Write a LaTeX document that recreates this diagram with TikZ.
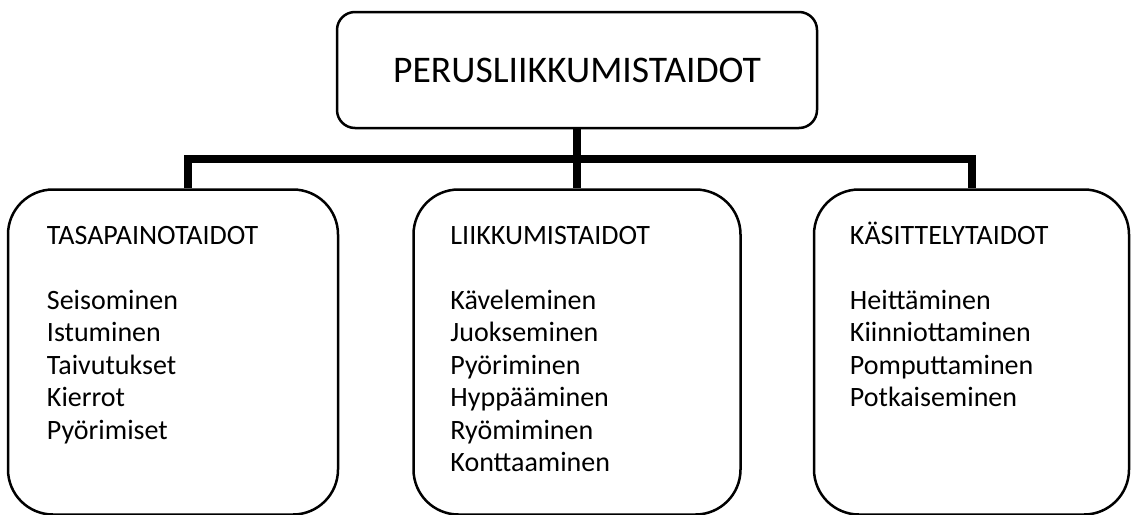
\documentclass[tikz,border=0pt]{standalone}
\usepackage{fontspec}
\setmainfont{Carlito}
\usetikzlibrary{positioning, calc}
\tikzset{
	mainbox/.style={rectangle, rounded corners=18pt, draw=black, line width=2.5pt, minimum width=480pt, minimum height=116pt, inner sep=0pt, font=\fontsize{37.6}{44}\selectfont},
	skillbox/.style={rectangle, rounded corners=45pt, draw=black, line width=2.5pt, minimum height=325pt, inner sep=0pt},
	skilltext/.style={anchor=north west, inner sep=0pt, align=left, font=\fontsize{28}{32.5}\selectfont},
	bus/.style={line width=8pt}
}
\newcommand{\topline}{\rule{0pt}{28pt}}

\begin{document}
\begin{tikzpicture}[x=1pt, y=-1pt]
	\useasboundingbox (0,0) rectangle (1131,514);
	\node (perus) [mainbox] at (577,70) {PERUSLIIKKUMISTAIDOT};
	\node (liik) [skillbox, minimum width=327pt, below=59pt of perus] {};
	\node (tasa) [skillbox, minimum width=330pt, left=73pt of liik] {};
	\node (kasi) [skillbox, minimum width=315pt, right=71pt of liik] {};
	
	% Tekstit laatikoihin
	\node (tasatxt) [skilltext] at ([xshift=40pt, yshift=-28pt]tasa.north west) {\topline TASAPAINOTAIDOT\\[\baselineskip]Seisominen\\Istuminen\\Taivutukset\\Kierrot\\Pyörimiset};
	\node (liiktxt) [skilltext] at ([xshift=38pt, yshift=-28pt]liik.north west) {\topline LIIKKUMISTAIDOT\\[\baselineskip]Käveleminen\\Juokseminen\\Pyöriminen\\Hyppääminen\\Ryömiminen\\Konttaaminen};
	\node (kasitxt) [skilltext] at ([xshift=37pt, yshift=-28pt]kasi.north west) {\topline KÄSITTELYTAIDOT\\[\baselineskip]Heittäminen\\Kiinniottaminen\\Pomputtaminen\\Potkaiseminen};
	
	% Yhdysviivat
	\coordinate (junction) at ($(perus.south)!0.5!(liik.north)$);
	\draw [bus] ([xshift=15pt]tasa.north) |- (junction) -| (kasi.north);
	\draw [bus] (perus.south) -- (liik.north);
\end{tikzpicture}
\end{document}
